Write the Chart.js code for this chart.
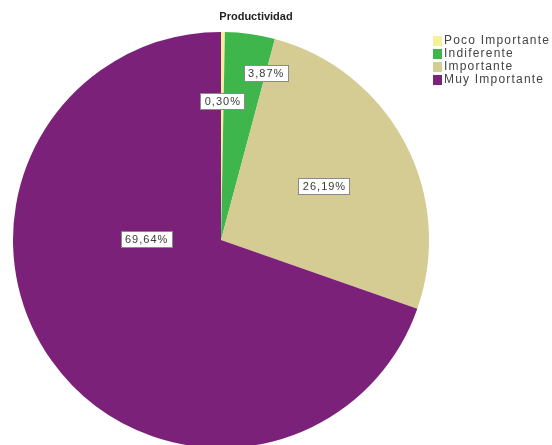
<!DOCTYPE html>
<html>
    <head>
        <meta charset="utf-8">
        <title>Productividad</title>
        <script src="https://cdn.jsdelivr.net/npm/chart.js"></script>
        <style>
            html, body {
                margin: 0;
                padding: 0;
                background: #ffffff;
                overflow: hidden;
            }
            .chart-box {
                width: 552px;
                height: 445px;
                overflow: hidden;
            }
        </style>
    </head>

    <body>
        <div class="chart-box">
            <canvas id="pieChart" width="552" height="460"></canvas>
        </div>

        <script>
            // Datos del gráfico
            const categories = ['Poco Importante', 'Indiferente', 'Importante', 'Muy Importante'];
            const percentages = [0.30, 3.87, 26.19, 69.64];
            const sliceColors = ['#f4f19a', '#3fb64b', '#d5cc93', '#7b2179'];
            const chartTitle = 'Productividad';

            // Posición de cada etiqueta dentro de su sector:
            // t = fracción del ángulo del sector, rf = fracción del radio
            const labelSpots = [
                { t: 0.5, rf: 0.67 },
                { t: 1.0, rf: 0.83 },
                { t: 0.5, rf: 0.56 },
                { t: 0.644, rf: 0.36 }
            ];

            function formatPct(v) {
                return v.toFixed(2).replace('.', ',') + '%';
            }

            // Etiquetas con recuadro blanco sobre cada sector
            const sliceLabels = {
                id: 'sliceLabels',
                afterDatasetsDraw(chart) {
                    const ctx = chart.ctx;
                    const meta = chart.getDatasetMeta(0);
                    ctx.save();
                    ctx.font = '11px "Liberation Sans", Arial, sans-serif';
                    ctx.letterSpacing = '1px';
                    ctx.textAlign = 'center';
                    ctx.textBaseline = 'middle';
                    meta.data.forEach(function(arc, i) {
                        const p = arc.getProps(['x', 'y', 'startAngle', 'endAngle', 'outerRadius'], true);
                        const spot = labelSpots[i];
                        const ang = p.startAngle + spot.t * (p.endAngle - p.startAngle);
                        const r = spot.rf * p.outerRadius;
                        const cx = p.x + Math.cos(ang) * r;
                        const cy = p.y + Math.sin(ang) * r;
                        const text = formatPct(percentages[i]);
                        const w = Math.round(ctx.measureText(text).width + 8);
                        const h = 16;
                        const bx = Math.round(cx - w / 2) + 0.5;
                        const by = Math.round(cy - h / 2) + 0.5;
                        ctx.fillStyle = '#ffffff';
                        ctx.fillRect(bx, by, w, h);
                        ctx.strokeStyle = '#8a8a8a';
                        ctx.lineWidth = 1;
                        ctx.strokeRect(bx, by, w, h);
                        ctx.fillStyle = '#3a3a3a';
                        ctx.fillText(text, cx + 0.5, cy + 1);
                    });
                    ctx.restore();
                }
            };

            // Título y leyenda dibujados a mano
            const titleAndLegend = {
                id: 'titleAndLegend',
                afterDraw(chart) {
                    const ctx = chart.ctx;
                    ctx.save();
                    ctx.fillStyle = '#222222';
                    ctx.font = 'bold 11px "Liberation Sans", Arial, sans-serif';
                    ctx.textAlign = 'center';
                    ctx.textBaseline = 'middle';
                    ctx.fillText(chartTitle, 256, 17);

                    ctx.font = '12px "Liberation Sans", Arial, sans-serif';
                    ctx.letterSpacing = '1.2px';
                    ctx.textAlign = 'left';
                    categories.forEach(function(name, i) {
                        const y = 41 + i * 13;
                        ctx.fillStyle = sliceColors[i];
                        ctx.fillRect(433, y - 5, 9, 10);
                        ctx.fillStyle = '#444444';
                        ctx.fillText(name, 444, y);
                    });
                    ctx.restore();
                }
            };

            const ctx = document.getElementById('pieChart').getContext('2d');
            new Chart(ctx, {
                type: 'pie',
                data: {
                    labels: categories,
                    datasets: [{
                        data: percentages,
                        backgroundColor: sliceColors,
                        borderWidth: 0
                    }]
                },
                options: {
                    responsive: false,
                    animation: false,
                    layout: {
                        padding: { left: 13, top: 32, right: 123, bottom: 12 }
                    },
                    plugins: {
                        legend: { display: false },
                        title: { display: false },
                        tooltip: { enabled: false }
                    }
                },
                plugins: [sliceLabels, titleAndLegend]
            });
        </script>
    </body>
</html>
